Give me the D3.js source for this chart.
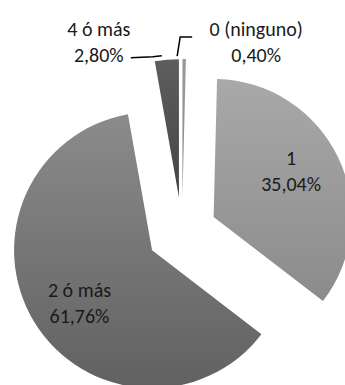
<!DOCTYPE html>
<html>
<head>
<meta charset="utf-8">
<script src="https://cdn.jsdelivr.net/npm/d3@7"></script>
<style>
  html, body { margin: 0; padding: 0; background: #fff; }
  #chart text { font-family: Carlito, Lato, "Open Sans", sans-serif; font-size: 20px; fill: #1a1a1a; }
</style>
</head>
<body>
<div id="chart"></div>
<script>
// data
var categories = ["0 (ninguno)", "1", "2 ó más", "4 ó más"];
var percentages = [0.40, 35.04, 61.76, 2.80];

// gradient top / bottom for each slice
var gradTop = ["#9a9a9a", "#a9a9a9", "#8b8b8b", "#5e5e5e"];
var gradBottom = ["#888888", "#8b8b8b", "#616161", "#444444"];

var width = 345, height = 385;
var cx = 182, cy = 232;
var radius = 138;
var explode = 35;

var svg = d3.select("#chart").append("svg")
	.attr("width", width)
	.attr("height", height);

var defs = svg.append("defs");
categories.forEach(function(c, i) {
	var g = defs.append("linearGradient")
		.attr("id", "grad" + i)
		.attr("x1", 0).attr("y1", 0)
		.attr("x2", 0).attr("y2", 1);
	g.append("stop").attr("offset", "0%").attr("stop-color", gradTop[i]);
	g.append("stop").attr("offset", "100%").attr("stop-color", gradBottom[i]);
});

var pie = d3.pie().sort(null).value(function(d) { return d.value; });
var arcs = pie(categories.map(function(c, i) {
	return { name: c, value: percentages[i], index: i };
}));

var arc = d3.arc().innerRadius(0).outerRadius(radius);

var fmt = function(v) { return v.toFixed(2).replace(".", ",") + "%"; };

// offset of each exploded slice along its bisector
var offsetOf = function(d) {
	var a = (d.startAngle + d.endAngle) / 2;
	return [explode * Math.sin(a), -explode * Math.cos(a)];
};

var g = svg.append("g").attr("transform", "translate(" + cx + "," + cy + ")");

var slices = g.selectAll("g.slice")
	.data(arcs)
	.enter()
	.append("g")
	.attr("class", "slice")
	.attr("transform", function(d) {
		var o = offsetOf(d);
		return "translate(" + o[0] + "," + o[1] + ")";
	});

slices.append("path")
	.attr("d", arc)
	.attr("fill", function(d) { return "url(#grad" + d.data.index + ")"; });

// labels inside the two big slices
var innerLabelArc = d3.arc().innerRadius(90).outerRadius(90);
var shift = 5 * Math.PI / 180;

slices.filter(function(d) { return d.data.value > 10; })
	.each(function(d) {
		var p = innerLabelArc.centroid({ startAngle: d.startAngle - shift, endAngle: d.endAngle - shift });
		var t = d3.select(this).append("text").attr("text-anchor", "middle");
		t.append("tspan").attr("x", p[0]).attr("y", p[1] - 6.5).text(d.data.name);
		t.append("tspan").attr("x", p[0]).attr("y", p[1] + 19.5).text(fmt(d.data.value));
	});

// small slices: labels outside with leader lines
var outerArc = d3.arc().innerRadius(radius).outerRadius(radius);

arcs.filter(function(d) { return d.data.value < 10; }).forEach(function(d) {
	var o = offsetOf(d);
	var p = outerArc.centroid(d);
	var px = p[0] + o[0], py = p[1] + o[1];
	var left = d.index === arcs.length - 1;
	var lx = left ? px - 68 : px + 72;
	var baseY = -cy + 36;

	var pts = left ?
		[[px - 5, py - 4], [px - 14, py - 3], [px - 36, py - 2]] :
		[[px - 7, py - 3], [px - 4, baseY + 1], [px + 8, baseY + 1]];

	g.append("path")
		.attr("d", d3.line()(pts))
		.attr("fill", "none")
		.attr("stroke", "#000")
		.attr("stroke-width", 1.5);

	var t = g.append("text").attr("text-anchor", "middle");
	t.append("tspan").attr("x", lx).attr("y", baseY).text(d.data.name);
	t.append("tspan").attr("x", lx).attr("y", baseY + 26).text(fmt(d.data.value));
});
</script>
</body>
</html>
